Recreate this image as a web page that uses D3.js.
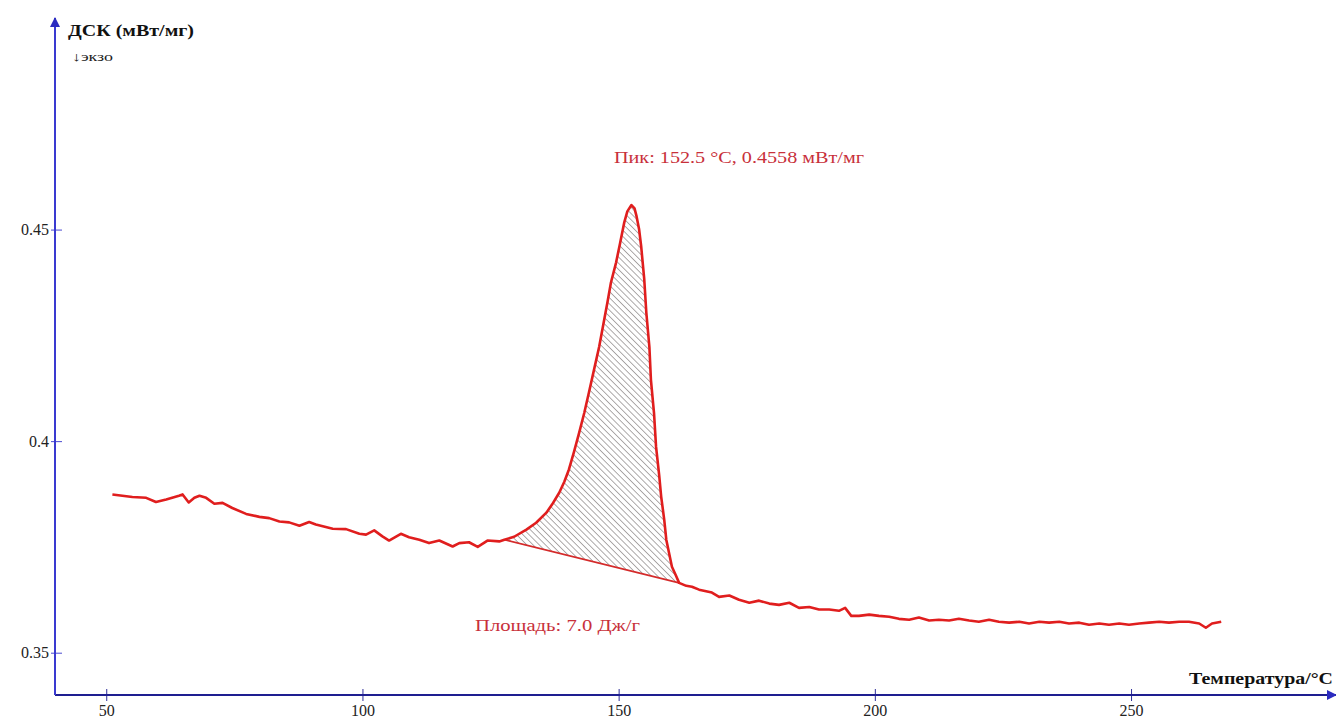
<!DOCTYPE html>
<html>
<head>
<meta charset="utf-8">
<script src="https://cdn.jsdelivr.net/npm/d3@7"></script>
<style>
  body { margin: 0; background: #fff; }
  svg { display: block; font-family: "Liberation Serif", "DejaVu Serif", serif; }
</style>
</head>
<body>
<div id="chart"><svg></svg></div>
<script>
// DSC curve, temperature (°C)
const temps = [
  51.2, 55.1, 57.8, 59.7, 61.7, 64.2, 64.9, 66.1, 67.2, 68.2, 69.5, 71.1, 72.7, 74.6, 77.3, 79.9,
  81.8, 83.8, 85.7, 87.7, 89.6, 90.9, 94.2, 96.8, 99.4, 100.7, 102.3, 103.9, 105.2, 107.5, 109.1,
  111.1, 113.0, 115.0, 117.6, 118.9, 120.8, 122.5, 124.4, 126.7,
  127.7, 129.6, 132.0, 133.9, 135.9, 137.0, 138.4, 139.4, 140.3, 141.3, 142.3, 143.3, 144.2, 145.2,
  146.2, 147.0, 147.8, 148.5, 149.5, 150.3, 151.1, 151.7, 152.5, 153.1, 153.5, 154.0, 154.4, 155.0,
  155.4, 156.0, 156.3, 156.9, 157.3, 157.9, 158.3, 158.9, 159.3, 159.9, 160.4, 161.2, 161.8,
  163.2, 164.3, 165.7, 168.2,
  169.6, 171.6, 173.5, 175.5, 177.4, 179.4, 181.3, 183.3, 185.2, 187.2, 189.1, 191.1, 193.0, 194.2,
  195.4, 196.9, 198.9, 200.8, 202.8, 204.7, 206.7, 208.6, 210.6, 212.5, 214.5, 216.4, 218.4, 220.3,
  222.3, 224.2, 226.2, 228.2, 230.1, 232.1, 234.0, 236.0, 237.9, 239.9, 241.8, 243.8, 245.7, 247.7,
  249.6, 251.6, 253.5, 255.5, 257.4, 259.4, 261.3, 263.3, 264.6, 265.8, 267.6
];
// DSC signal (mW/mg)
const dscValues = [
  0.3874, 0.3868, 0.3866, 0.3856, 0.3862, 0.3871, 0.3874, 0.3855, 0.3866, 0.3871, 0.3866, 0.3852, 0.3854, 0.3842, 0.3828, 0.3821,
  0.3818, 0.3810, 0.3808, 0.3800, 0.3809, 0.3803, 0.3793, 0.3792, 0.3781, 0.3779, 0.3789, 0.3775, 0.3765, 0.3781, 0.3773,
  0.3767, 0.3759, 0.3765, 0.3751, 0.3759, 0.3761, 0.3750, 0.3765, 0.3763,
  0.3767, 0.3774, 0.3791, 0.3807, 0.3831, 0.3850, 0.3878, 0.3904, 0.3933, 0.3975, 0.4020, 0.4067, 0.4115, 0.4169,
  0.4223, 0.4275, 0.4327, 0.4375, 0.4422, 0.4469, 0.4517, 0.4543, 0.4558, 0.4550, 0.4531, 0.4500, 0.4460, 0.4382,
  0.4304, 0.4223, 0.4145, 0.4067, 0.3987, 0.3921, 0.3869, 0.3814, 0.3767, 0.3732, 0.3703, 0.3682, 0.3665,
  0.3658, 0.3656, 0.3649, 0.3642,
  0.3632, 0.3635, 0.3625, 0.3618, 0.3623, 0.3616, 0.3613, 0.3618, 0.3606, 0.3608, 0.3602, 0.3602, 0.3599, 0.3606,
  0.3587, 0.3587, 0.3590, 0.3587, 0.3585, 0.3580, 0.3578, 0.3583, 0.3576, 0.3578, 0.3576, 0.3580, 0.3576, 0.3573,
  0.3578, 0.3573, 0.3571, 0.3573, 0.3569, 0.3573, 0.3571, 0.3573, 0.3569, 0.3571, 0.3566, 0.3569, 0.3566, 0.3569,
  0.3566, 0.3569, 0.3571, 0.3573, 0.3571, 0.3573, 0.3573, 0.3569, 0.3559, 0.3569, 0.3573
];
// integration baseline (start, end)
const baseTemps = [127.7, 161.8];
const baseValues = [0.3767, 0.3665];

const xTicks = [50, 100, 150, 200, 250];
const yTicks = [0.35, 0.4, 0.45];

const yTitle = "ДСК (мВт/мг)";
const yNote = "↓экзо";
const xTitle = "Температура/°C";
const peakLabel = "Пик: 152.5 °C, 0.4558 мВт/мг";
const areaLabel = "Площадь: 7.0 Дж/г";

const W = 1336, H = 720;
const svg = d3.select("#chart svg").attr("width", W).attr("height", H);

const x = d3.scaleLinear().domain([40, 290]).range([55, 1336]);
const y = d3.scaleLinear().domain([0.34, 0.50]).range([695, 18]);

const data = temps.map((t, i) => ({ t: t, v: dscValues[i] }));
const base = d3.scaleLinear().domain(baseTemps).range(baseValues);

// hatch pattern
const defs = svg.append("defs");
defs.append("pattern")
  .attr("id", "hatch")
  .attr("patternUnits", "userSpaceOnUse")
  .attr("width", 4.4).attr("height", 4.4)
  .attr("patternTransform", "rotate(-45)")
  .append("line")
  .attr("x1", 0).attr("y1", 0).attr("x2", 0).attr("y2", 4.4)
  .attr("stroke", "#5e5656").attr("stroke-width", 1);

defs.append("marker")
  .attr("id", "arrow")
  .attr("viewBox", "0 0 10 10")
  .attr("refX", 9).attr("refY", 5)
  .attr("markerWidth", 10).attr("markerHeight", 10)
  .attr("markerUnits", "userSpaceOnUse")
  .attr("orient", "auto")
  .append("path")
  .attr("d", "M0,0 L10,5 L0,10 Z")
  .attr("fill", "#2b2bc0");

// hatched area between curve and baseline
const peakData = data.filter(d => d.t >= baseTemps[0] && d.t <= baseTemps[1]);
svg.append("path")
  .datum(peakData)
  .attr("fill", "url(#hatch)")
  .attr("d", d3.area().x(d => x(d.t)).y0(d => y(base(d.t))).y1(d => y(d.v)));

// baseline
svg.append("line")
  .attr("x1", x(baseTemps[0])).attr("y1", y(baseValues[0]))
  .attr("x2", x(baseTemps[1])).attr("y2", y(baseValues[1]))
  .attr("stroke", "#d42a2a").attr("stroke-width", 1.6);

// curve
svg.append("path")
  .datum(data)
  .attr("fill", "none")
  .attr("stroke", "#e01e1e")
  .attr("stroke-width", 2.6)
  .attr("stroke-linejoin", "round")
  .attr("d", d3.line().x(d => x(d.t)).y(d => y(d.v)));

// axes
const xAxis = svg.append("g")
  .attr("transform", `translate(0,${y(0.34)})`)
  .call(d3.axisBottom(x).tickValues(xTicks).tickSize(6).tickSizeOuter(0));
xAxis.select(".domain").remove();
xAxis.selectAll(".tick line").attr("y1", -6).attr("y2", 6).attr("stroke", "#30309a");
xAxis.selectAll(".tick text")
  .attr("y", 10).attr("dy", "0.71em")
  .style("font-family", "Liberation Serif").style("font-size", "16px").attr("fill", "#222");

const yAxis = svg.append("g")
  .attr("transform", `translate(${x(40)},0)`)
  .call(d3.axisLeft(y).tickValues(yTicks).tickFormat(d3.format("")).tickSize(5));
yAxis.select(".domain").remove();
yAxis.selectAll(".tick line").attr("x1", -4).attr("x2", 7).attr("stroke", "#4a4ad0");
yAxis.selectAll(".tick text")
  .attr("x", -6)
  .style("font-family", "Liberation Serif").style("font-size", "16px").attr("fill", "#222");

svg.append("line")
  .attr("x1", x(40)).attr("y1", y(0.34)).attr("x2", 1336).attr("y2", y(0.34))
  .attr("stroke", "#1e1e90").attr("stroke-width", 2)
  .attr("marker-end", "url(#arrow)");
svg.append("line")
  .attr("x1", x(40)).attr("y1", y(0.34)).attr("x2", x(40)).attr("y2", 18)
  .attr("stroke", "#3a3ad0").attr("stroke-width", 2)
  .attr("marker-end", "url(#arrow)");

// titles (glyphs stretched to the wide rendering of the original)
svg.append("text").attr("x", 68).attr("y", 36)
  .attr("font-weight", "bold").attr("font-size", 17).attr("fill", "#111")
  .attr("textLength", 126).attr("lengthAdjust", "spacingAndGlyphs").text(yTitle);
svg.append("text").attr("x", 72).attr("y", 61)
  .attr("font-size", 13).attr("fill", "#222")
  .attr("textLength", 41).attr("lengthAdjust", "spacingAndGlyphs").text(yNote);
svg.append("text").attr("x", 1189).attr("y", 684)
  .attr("font-weight", "bold").attr("font-size", 17).attr("fill", "#111")
  .attr("textLength", 144).attr("lengthAdjust", "spacingAndGlyphs").text(xTitle);

// annotations
svg.append("text").attr("x", 614).attr("y", 163)
  .attr("font-size", 16).attr("fill", "#c8303a")
  .attr("textLength", 250).attr("lengthAdjust", "spacingAndGlyphs").text(peakLabel);
svg.append("text").attr("x", 475).attr("y", 631)
  .attr("font-size", 16).attr("fill", "#c8303a")
  .attr("textLength", 165).attr("lengthAdjust", "spacingAndGlyphs").text(areaLabel);
</script>
</body>
</html>
